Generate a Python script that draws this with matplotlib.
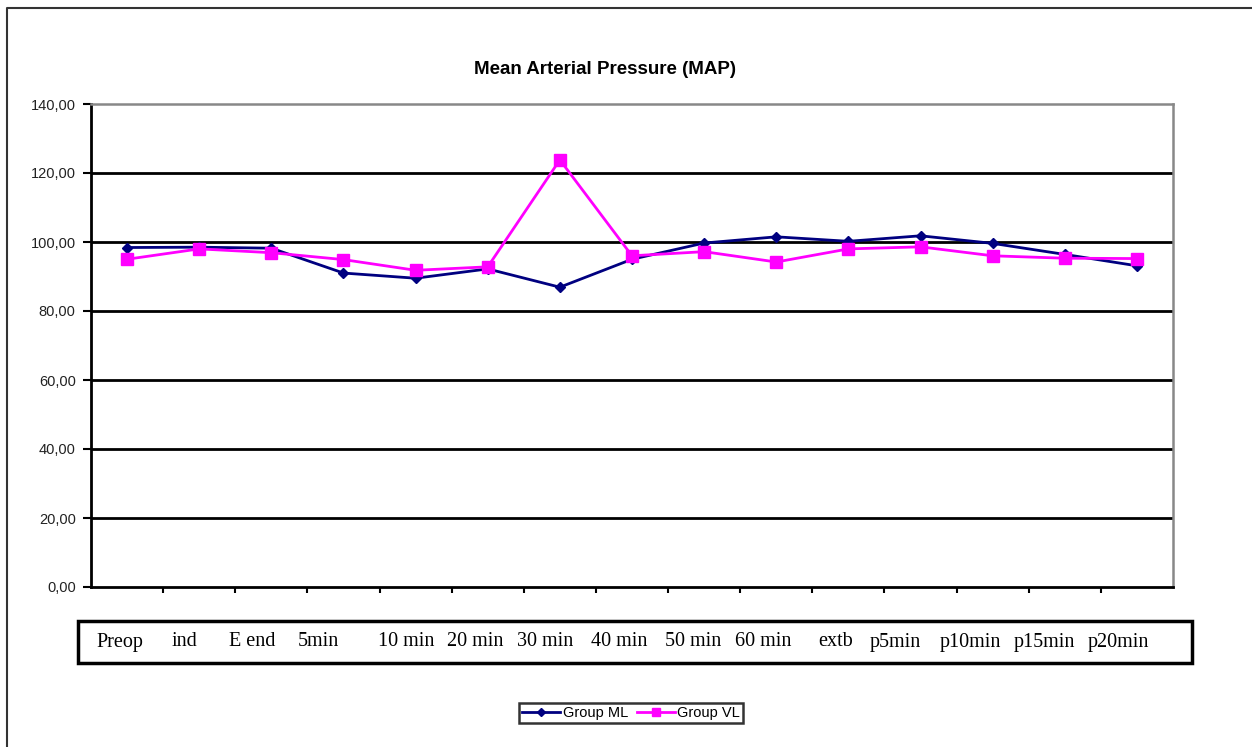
import matplotlib
matplotlib.use("Agg")
import matplotlib.pyplot as plt
from matplotlib.lines import Line2D
from matplotlib.patches import Rectangle

# Time points and mean arterial pressure per group
time_points = ["Preop", "ind", "E end", "5min", "10 min", "20 min", "30 min",
               "40 min", "50 min", "60 min", "extb", "p5min", "p10min",
               "p15min", "p20min"]
group_ml = [98.4, 98.5, 98.2, 91.0, 89.5, 92.2, 86.9, 95.0, 99.7, 101.5,
            100.2, 101.8, 99.6, 96.4, 93.1]
group_vl = [95.0, 98.0, 96.9, 94.9, 91.8, 92.8, 123.8, 96.0, 97.2, 94.2,
            98.0, 98.6, 96.0, 95.3, 95.2]
series_names = ["Group ML", "Group VL"]
y_ticks = [0, 20, 40, 60, 80, 100, 120, 140]

W, H = 1252, 747
fig = plt.figure(figsize=(W / 100, H / 100), dpi=100)
fig.patch.set_facecolor("white")

# Plot area
ax = fig.add_axes([91 / W, 1 - 587 / H, (1173 - 91) / W, (587 - 104) / H])
x = list(range(len(time_points)))
ax.plot(x, group_ml, color="#000080", lw=2.0, marker="D", ms=5,
        mec="#000080", mfc="#000080", zorder=4, label=series_names[0])
ax.plot(x, group_vl, color="#FF00FF", lw=2.0, marker="s", ms=8,
        mec="#FF00FF", mfc="#FF00FF", zorder=5, label=series_names[1])

ax.set_xlim(-0.5, len(time_points) - 0.5)
ax.set_ylim(0, 140)
ax.set_yticks(y_ticks)
ax.set_yticklabels([f"{v:.2f}".replace(".", ",") for v in y_ticks],
                   fontsize=10.5, family="Liberation Sans", color="#222222")
ax.set_xticks([i + 0.5 for i in range(len(time_points) - 1)])
ax.set_xticklabels([])
ax.tick_params(axis="y", direction="out", length=6, width=1.5, pad=5)
ax.tick_params(axis="x", direction="out", length=4, width=1.5)

for v in y_ticks[1:-1]:
    ax.axhline(v, color="black", lw=2.0, zorder=1)

for side in ("left", "bottom"):
    ax.spines[side].set_color("black")
    ax.spines[side].set_linewidth(2.0)
for side in ("top", "right"):
    ax.spines[side].set_color("#888888")
    ax.spines[side].set_linewidth(1.8)

# Title
fig.text(605 / W, 1 - 69 / H, "Mean Arterial Pressure (MAP)", ha="center",
         va="center", fontsize=13.5, fontweight="bold",
         family="Liberation Sans")

# Box holding the time point names
fig.patches.append(Rectangle((78 / W, 1 - 663 / H), (1192 - 78) / W, 42 / H,
                             transform=fig.transFigure, fill=False,
                             ec="black", lw=2.5))
label_x = [120, 184, 252, 318, 406, 475, 545, 619, 693, 763, 836, 895, 970,
           1044, 1118]
for name, px in zip(time_points, label_x):
    fig.text(px / W, 1 - 642 / H, name, ha="center", va="center",
             fontsize=14.5, family="Liberation Serif")

# Legend
leg = fig.legend(loc="center", bbox_to_anchor=(631 / W, 1 - 713 / H),
                 ncol=2, frameon=True, fancybox=False,
                 handlelength=2.6, handletextpad=0.2, columnspacing=0.6,
                 borderpad=0.2, markerscale=0.8,
                 prop={"family": ["Liberation Sans Narrow", "Liberation Sans"],
                       "size": 10.5})
leg.get_frame().set_edgecolor("black")
leg.get_frame().set_linewidth(1.8)

# Outer frame (left and top edges)
fig.lines.append(Line2D([7 / W, 7 / W, 1.0], [0.0, 1 - 8 / H, 1 - 8 / H],
                        transform=fig.transFigure, color="#333333", lw=1.5))

fig.savefig("out.png", dpi=100, facecolor="white")
